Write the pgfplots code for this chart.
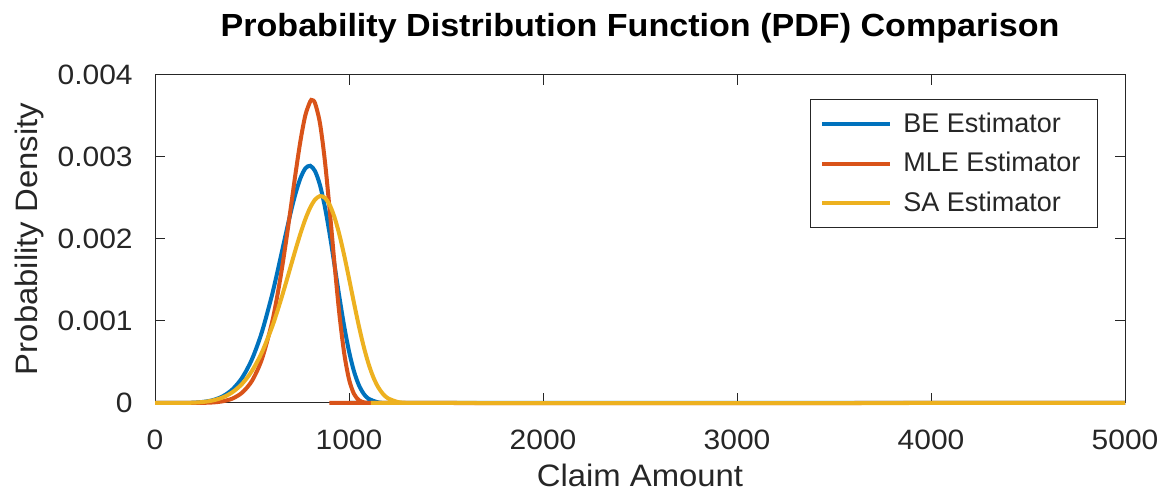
\documentclass[border=0pt]{standalone}
\usepackage{fontspec}
\setmainfont{Liberation Sans}
\newfontfamily\tickfont{Liberation Sans}[FakeStretch=1.07]
\newfontfamily\labelfont{Liberation Sans}[FakeStretch=1.06]
\newfontfamily\titlefont{Liberation Sans}[FakeStretch=1.065]
\usepackage{pgfplots}
\usepackage{pgfplotstable}
\pgfplotsset{compat=1.18}

\definecolor{beblue}{rgb}{0,0.447,0.741}
\definecolor{mleorange}{rgb}{0.85,0.325,0.098}
\definecolor{sayellow}{rgb}{0.929,0.694,0.125}
\definecolor{axgray}{rgb}{0.15,0.15,0.15}

% Fitted densities of the claim amount under the three estimators
\pgfplotstableread{
x y
0 0
100 0
150 0.0000009
200 0.0000041
250 0.0000137
300 0.0000362
350 0.0000825
400 0.0001674
450 0.0003107
500 0.0005344
550 0.0008579
600 0.0012877
625 0.0015370
650 0.0018010
675 0.0020694
700 0.0023280
725 0.0025595
750 0.0027438
775 0.0028610
800 0.0028929
825 0.0028271
850 0.0026599
875 0.0023991
900 0.0020645
925 0.0016860
950 0.0012991
975 0.0009382
1000 0.0006307
1025 0.0003915
1050 0.0002226
1075 0.0001148
1100 0.0000532
1150 0.0000079
1200 0.0000007
1250 0
5000 0
}\bedata

\pgfplotstableread{
x y
0 0
150 0
200 0.0000004
250 0.0000019
300 0.0000070
350 0.0000211
400 0.0000551
450 0.0001281
500 0.0002709
550 0.0005275
600 0.0009499
625 0.0012371
650 0.0015769
675 0.0019636
700 0.0023828
725 0.0028081
750 0.0032004
775 0.0035089
800 0.0036775
810 0.0036939
825 0.0036558
850 0.0034155
875 0.0029665
900 0.0023649
925 0.0017049
950 0.0010924
975 0.0006098
1000 0.0002898
1025 0.0001143
1050 0.0000363
1075 0.0000089
1100 0.0000017
1150 0
5000 0
}\mledata

\pgfplotstableread{
x y
0 0
100 0
150 0.0000010
200 0.0000043
250 0.0000130
300 0.0000321
350 0.0000688
400 0.0001328
450 0.0002360
500 0.0003917
550 0.0006123
600 0.0009051
625 0.0010779
650 0.0012658
675 0.0014651
700 0.0016705
725 0.0018746
750 0.0020685
775 0.0022417
800 0.0023827
825 0.0024798
850 0.0025226
875 0.0025032
900 0.0024174
925 0.0022666
950 0.0020574
975 0.0018026
1000 0.0015195
1025 0.0012279
1050 0.0009476
1075 0.0006954
1100 0.0004831
1125 0.0003162
1150 0.0001940
1175 0.0001109
1200 0.0000588
1250 0.0000128
1300 0.0000019
1350 0
5000 0
}\sadata

\begin{document}
\begin{tikzpicture}
\begin{axis}[
  name=ax,
  scale only axis, width=485pt, height=164pt,
  xmin=0, xmax=5000, ymin=0, ymax=0.004,
  clip=false,
  xtick={0,1000,2000,3000,4000,5000},
  xticklabels={0,1000,2000,3000,4000,5000},
  ytick={0,0.001,0.002,0.003,0.004},
  yticklabels={0,0.001,0.002,0.003,0.004},
  scaled y ticks=false,
  tick align=inside, tick pos=both,
  major tick length=5pt,
  axis line style={axgray, line width=0.5pt},
  every tick/.style={axgray, line width=0.5pt},
  tick label style={font=\tickfont\fontsize{14}{16}\selectfont, text=axgray},
  xticklabel style={anchor=base, yshift=-23.5pt},
  yticklabel style={anchor=east, inner sep=0pt, xshift=-11pt},
  xlabel={Claim Amount},
  ylabel={Probability Density},
  label style={font=\labelfont\fontsize{15.5}{18}\selectfont, text=axgray},
  xlabel style={at={([yshift=-42pt]axis description cs:0.5,0)}, anchor=base},
  ylabel style={at={([xshift=-58.5pt]axis description cs:0,0.5)}, anchor=base},
  title={Probability Distribution Function (PDF) Comparison},
  every axis title/.style={at={(0.5,1)}, anchor=base, yshift=19.15pt,
    font=\titlefont\bfseries\fontsize{16}{19}\selectfont},
  legend style={at={([xshift=-13.5pt,yshift=-12pt]axis description cs:1,1)},
    anchor=north east, draw=axgray, line width=0.5pt,
    inner xsep=0pt, inner ysep=4.75pt, row sep=4.35pt,
    nodes={inner xsep=0pt, inner ysep=2pt, text depth=0.15em},
    font=\fontsize{13.5}{16}\selectfont, text=axgray},
  legend cell align=left,
  legend image code/.code={%
    \path[draw=none] (0pt,0pt) -- (46.7pt,0pt);
    \draw[#1] (6.2pt,0pt) -- (40pt,0pt);},
]
\addplot[beblue, line width=2pt, smooth] table[x=x, y=y] {\bedata};
\addlegendentry{BE Estimator\hspace*{8.5pt}}
\addplot[mleorange, line width=2pt, smooth] table[x=x, y=y] {\mledata};
\addlegendentry{MLE Estimator\hspace*{8.5pt}}
\addplot[sayellow, line width=2pt, smooth] table[x=x, y=y] {\sadata};
\addlegendentry{SA Estimator\hspace*{8.5pt}}
\end{axis}
\pgfresetboundingbox
\path ([shift={(-77.5pt,-45.5pt)}]ax.south west) rectangle ([shift={(20.5pt,37.5pt)}]ax.north east);
\end{tikzpicture}
\end{document}
